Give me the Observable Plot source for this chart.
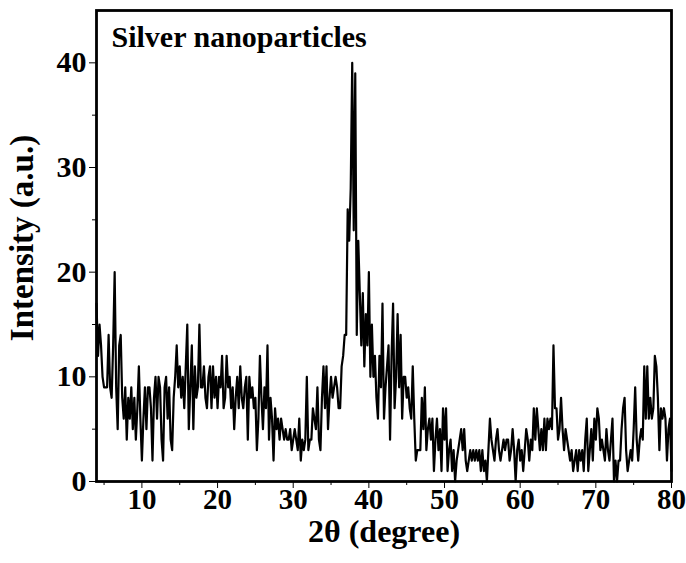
<!DOCTYPE html>
<html>
<head>
<meta charset="utf-8">
<script src="https://cdn.jsdelivr.net/npm/d3@7"></script>
<script src="https://cdn.jsdelivr.net/npm/@observablehq/plot@0.6"></script>
<style>
  html, body { margin: 0; padding: 0; background: #fff; }
  #chart svg { display: block; }
</style>
</head>
<body>
<div id="chart"></div>
<script>
// Scan grid: start angle and step (degrees 2θ)
const scanStart = 4.0;
const scanStep = 0.2;

// Intensity (a.u.), 10 points per 2° row, 4.0 … 80.0
const intensity = [
  17,12,15,13,10,9,9,9,14,9,        // 4
  8,13,20,9,5,13,14,8,6,9,          // 6
  4,8,6,9,5,8,4,7,11,6,             // 8
  2,6,9,5,9,9,7,2,8,10,             // 10
  6,10,9,4,2,9,10,6,9,4,            // 12
  3,8,10,13,9,11,8,10,7,11,         // 14
  15,5,9,13,5,11,8,9,15,9,          // 16
  9,11,8,7,10,11,7,11,8,10,         // 18
  7,10,9,12,7,8,12,9,10,7,          // 20
  9,5,8,10,7,11,8,7,9,10,           // 22
  4,10,8,9,7,8,3,6,12,8,            // 24
  5,9,7,13,4,8,6,2,7,5,             // 26
  6,4,6,5,4,5,4,4,5,3,              // 28
  4,5,4,3,6,2,4,3,4,10,             // 30
  3,4,4,7,6,5,9,4,3,8,              // 32
  11,7,11,5,8,10,8,9,10,9,          // 34
  7,7,11,12,14,14,26,23,28,40,      // 36
  24,39,14,23,18,13,18,11,16,13,    // 38
  20,10,15,10,12,8,6,12,9,17,       // 40
  6,9,11,13,4,12,17,7,10,16,        // 42
  9,14,6,10,10,8,9,7,6,11,          // 44
  6,2,3,3,3,8,5,9,3,5,              // 46
  6,4,6,1,4,6,3,5,1,7,              // 48
  4,7,1,3,4,1,3,0,2,3,              // 50
  4,5,3,5,2,1,2,3,2,3,              // 52
  2,3,2,3,1,3,1,2,0,3,              // 54
  6,4,3,2,4,5,3,2,3,4,              // 56
  3,4,4,2,3,5,3,0,3,4,              // 58
  2,3,1,3,5,4,2,4,3,7,              // 60
  4,7,5,3,5,3,6,3,6,5,              // 62
  6,5,13,7,7,4,5,8,5,3,             // 64
  5,4,3,2,3,1,2,3,1,3,              // 66
  2,3,1,4,6,1,3,5,2,6,              // 68
  4,7,6,3,4,3,2,5,3,2,              // 70
  4,6,0,2,0,2,2,5,7,8,              // 72
  3,1,2,3,2,5,9,4,2,4,              // 74
  5,4,11,6,11,6,8,6,7,12,           // 76
  11,8,3,7,6,7,6,2,5,6,             // 78
  1                                  // 80
];

const xMajorTicks = [10, 20, 30, 40, 50, 60, 70, 80];
const xMinorTicks = [5, 15, 25, 35, 45, 55, 65, 75];
const yMajorTicks = [0, 10, 20, 30, 40];
const yMinorTicks = [5, 15, 25, 35];

const titleText = "Silver nanoparticles";
const xLabel = "2θ (degree)";
const yLabel = "Intensity (a.u.)";

const data = intensity.map((v, i) => ({theta: +(scanStart + i * scanStep).toFixed(2), I: v}));

const font = "'Liberation Serif', 'Times New Roman', serif";

const chart = Plot.plot({
  width: 686,
  height: 563,
  marginLeft: 96,
  marginRight: 15,
  marginTop: 10,
  marginBottom: 82,
  style: {fontFamily: font, fontWeight: "bold", background: "#fff", color: "#000", overflow: "visible"},
  x: {domain: [4, 80]},
  y: {domain: [0, 45]},
  marks: [
    Plot.axisX({ticks: xMajorTicks, tickSize: 7, tickPadding: 0, tickWidth: 2.5, fontSize: 29, label: null, tickFormat: d => d}),
    Plot.axisX({ticks: xMinorTicks, tickSize: 4, tickWidth: 2.5, text: null, label: null}),
    Plot.axisY({ticks: yMajorTicks, tickSize: 7, tickPadding: 3, tickWidth: 2.5, fontSize: 30, label: null, tickFormat: d => d}),
    Plot.axisY({ticks: yMinorTicks, tickSize: 4, tickWidth: 2.5, text: null, label: null}),
    Plot.line(data, {x: "theta", y: "I", stroke: "#000", strokeWidth: 2.2, strokeLinejoin: "round"}),
    Plot.frame({stroke: "#000", strokeWidth: 2.8}),
    Plot.text([titleText], {frameAnchor: "top-left", dx: 15, dy: 15, textAnchor: "start", lineAnchor: "top", fontSize: 30, fontWeight: "bold", fill: "#000"}),
    Plot.text([xLabel], {frameAnchor: "bottom", dy: 50, textAnchor: "middle", lineAnchor: "middle", fontSize: 32, fontWeight: "bold", fill: "#000"}),
    Plot.text([yLabel], {frameAnchor: "left", dx: -74, dy: -8, rotate: -90, textAnchor: "middle", lineAnchor: "middle", fontSize: 33, fontWeight: "bold", fill: "#000"})
  ]
});

document.getElementById("chart").appendChild(chart);
</script>
</body>
</html>
